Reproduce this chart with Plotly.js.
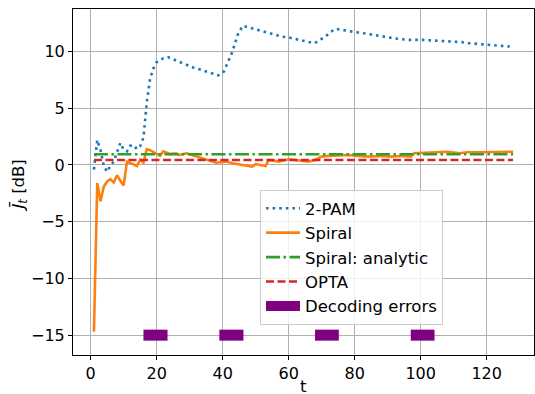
<!DOCTYPE html>
<html>
<head>
<meta charset="utf-8">
<script src="https://cdn.plot.ly/plotly-3.0.1.min.js"></script>
<style>html,body{margin:0;padding:0;background:#fff;}#chart{width:535px;height:394px;}</style>
</head>
<body>
<div id="chart"></div>
<script>
// 2-PAM
const pamT = [1,2,3,4,5,6,7,8,9,10,11,12,13,14,15,16,17,18,19,20,22,23.5,25.5,27.3,29.2,31,33,34.8,36.6,38.6,40.3,41.1,42.1,42.8,43.4,43.9,44.6,46.1,48.2,50,51.9,53.7,55.9,57.9,60,62,64,65.8,67.9,69.4,71.2,72.6,74.2,76.3,78.5,80.5,82.5,84.3,86.4,88.3,90.4,92.4,94.4,96.4,100.5,104.5,106.6,108.6,110.5,112.5,114.5,116.5,118.6,120.6,122.6,124.6,127];
const pamV = [-0.4,2.2,1.3,-0.1,-0.6,-0.05,0.3,1.2,1.95,1.35,1.2,1.7,1.75,1.4,1.65,2.4,5.5,7.6,8.5,9.06,9.4,9.5,9.27,9.03,8.8,8.6,8.44,8.26,8.09,7.9,8.2,8.7,9.27,9.86,10.4,10.9,11.5,12.27,12.1,11.9,11.77,11.6,11.47,11.32,11.24,11.09,10.97,10.86,10.74,11.03,11.33,11.7,12.0,11.9,11.77,11.7,11.62,11.53,11.41,11.32,11.24,11.15,11.09,11.03,11.03,10.97,10.91,10.88,10.86,10.83,10.74,10.68,10.65,10.59,10.53,10.5,10.44];

// Spiral
const spiralT = [1,2,3,4,5,6,7,8,9,10,11,12,13,14,15,16,17,18,19,20,21,22,23,24,25,26,27,28,29,30,31,33,35,38,40,41,43,46,49,50,53,54,57,60,63,66,68,70,72,75,78,81,84,88,91,94,97,98,102,105,108,112,114,118,122,128];
const spiralV = [-14.7,-1.6,-3.2,-1.9,-1.45,-1.25,-1.55,-0.9,-1.4,-1.8,0.3,0.2,0.05,-0.1,0.45,0.2,1.4,1.3,1.15,1.0,0.8,1.2,1.1,0.97,1.0,1.0,0.88,0.95,1.03,0.95,0.85,0.68,0.5,0.2,0.25,0.3,0.15,0.0,-0.15,0.08,-0.09,0.44,0.3,0.5,0.38,0.3,0.44,0.74,0.8,0.82,0.88,0.79,0.74,0.79,0.74,0.79,0.74,1.03,1.09,1.1,1.17,1.03,1.12,1.12,1.15,1.17];

// Spiral: analytic and OPTA (constant levels)
const analyticT = [1,128];
const analyticLevel = 0.95;
const optaT = [1,128];
const optaLevel = 0.44;

// Decoding errors (t intervals at level -15)
const errorStart = [16,39,68,97];
const errorEnd = [23.3,46.3,75.2,104.2];
const errorLevel = -15;

const xTitle = 't';
const yTitle = '<i>J\u0304</i><sub><i>t</i></sub> [dB]';

const errX = [], errY = [];
errorStart.forEach((s,i)=>{ errX.push(s, errorEnd[i], null); errY.push(errorLevel, errorLevel, null); });

const traces = [
  {x: pamT, y: pamV, name: '2-PAM', mode: 'lines', line: {color: '#1f77b4', width: 2.6, dash: '2.6px,4px'}},
  {x: spiralT, y: spiralV, name: 'Spiral', mode: 'lines', line: {color: '#ff7f0e', width: 2.6}},
  {x: analyticT, y: analyticT.map(()=>analyticLevel), name: 'Spiral: analytic', mode: 'lines', line: {color: '#2ca02c', width: 2.6, dash: '14px,3.5px,2.5px,3.5px'}},
  {x: optaT, y: optaT.map(()=>optaLevel), name: 'OPTA', mode: 'lines', line: {color: '#d62728', width: 2.6, dash: '8px,3.5px'}},
  {x: errX, y: errY, name: 'Decoding errors', mode: 'lines', line: {color: '#800080', width: 11}}
];

const font = {family: 'DejaVu Sans', size: 16, color: '#000'};
const layout = {
  width: 535, height: 394,
  margin: {l: 73, r: 1, t: 9, b: 39, pad: 0},
  paper_bgcolor: '#fff', plot_bgcolor: '#fff',
  font: font,
  showlegend: true,
  legend: {x: 0.4056, y: 0.477, xanchor: 'left', yanchor: 'top', itemwidth: 34, bgcolor: 'rgba(255,255,255,0.8)', bordercolor: '#cccccc', borderwidth: 1, font: {family: 'DejaVu Sans', size: 16.5, color: '#000'}},
  xaxis: {
    range: [-5.35, 134.35], tickvals: [0,20,40,60,80,100,120], ticktext: ['0','20','40','60','80','100','120'],
    showgrid: true, gridcolor: '#b0b0b0', gridwidth: 1, zeroline: false,
    showline: true, linecolor: '#000', linewidth: 1, mirror: true,
    ticks: 'outside', ticklen: 4, tickcolor: '#000', tickfont: font
  },
  yaxis: {
    range: [-16.75, 13.75], tickvals: [-15,-10,-5,0,5,10],
    showgrid: true, gridcolor: '#b0b0b0', gridwidth: 1, zeroline: false,
    showline: true, linecolor: '#000', linewidth: 1, mirror: true,
    ticks: 'outside', ticklen: 4, tickcolor: '#000', tickfont: font
  },
  annotations: [
    {text: xTitle, xref: 'paper', yref: 'paper', x: 0.5, y: -0.0885, xanchor: 'center', yanchor: 'middle', height: 16, borderpad: 0, showarrow: false, font: {family: 'DejaVu Sans', size: 16.5, color: '#000'}},
    {text: yTitle, xref: 'paper', yref: 'paper', x: -0.117, y: 0.49, xanchor: 'center', yanchor: 'middle', textangle: -90, showarrow: false, font: {family: 'DejaVu Sans', size: 16.5, color: '#000'}}
  ],
  hovermode: false
};
Plotly.newPlot('chart', traces, layout, {displayModeBar: false, staticPlot: true});
</script>
</body>
</html>
